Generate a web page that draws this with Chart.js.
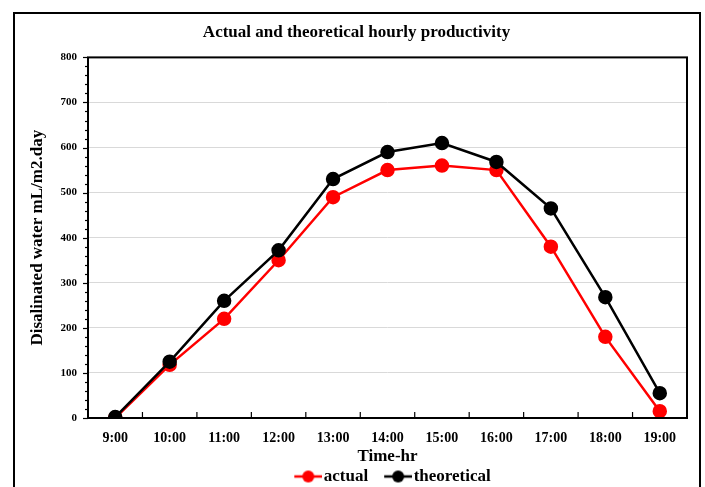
<!DOCTYPE html>
<html><head><meta charset="utf-8">
<script src="https://cdn.jsdelivr.net/npm/chart.js@4"></script>
<style>html,body{margin:0;padding:0;background:#fff;overflow:hidden;}</style>
</head><body>
<canvas id="c" width="705" height="487" style="width:705px;height:487px;display:block"></canvas>
<script>
const categories = ['9:00','10:00','11:00','12:00','13:00','14:00','15:00','16:00','17:00','18:00','19:00'];
const actual = [0,118,220,350,490,550,560,550,380,180,15];
const theoretical = [2,125,260,372,530,590,610,568,465,268,55];
const yMin = 0, yMax = 800, yStep = 100, yMinorStep = 20;

const FONT = '"Liberation Serif", "Times New Roman", serif';

// legend marker: transparent left part, then line with dot (28px wide)
function legendIcon(color){
  const c = document.createElement('canvas');
  c.width = 45; c.height = 14;
  const x = c.getContext('2d');
  x.strokeStyle = color; x.lineWidth = 2.5;
  x.beginPath(); x.moveTo(17,7); x.lineTo(45,7); x.stroke();
  x.fillStyle = color; x.beginPath(); x.arc(31,7,6,0,Math.PI*2); x.fill();
  return c;
}

const decor = {
  id:'decor',
  afterLayout(chart){
    if (chart.titleBlock) { chart.titleBlock.left += 12; }
  },
  beforeDraw(chart){
    const ctx = chart.ctx;
    ctx.save();
    ctx.fillStyle = '#fff';
    ctx.fillRect(0,0,chart.width,chart.height);
    ctx.strokeStyle = '#000'; ctx.lineWidth = 2;
    ctx.beginPath();
    ctx.moveTo(14, chart.height+5); ctx.lineTo(14, 13); ctx.lineTo(700, 13); ctx.lineTo(700, chart.height+5);
    ctx.stroke();
    ctx.restore();
  },
  afterDraw(chart){
    const ctx = chart.ctx, a = chart.chartArea;
    const y = chart.scales.y, x = chart.scales.x;
    ctx.save();
    ctx.strokeStyle = '#000';
    ctx.lineWidth = 1.2;
    for (let v = yMin; v <= yMax; v += yMinorStep){
      const py = Math.round(y.getPixelForValue(v)) + 0.5;
      const len = (v % yStep === 0) ? 5 : 3;
      ctx.beginPath(); ctx.moveTo(a.left - len, py); ctx.lineTo(a.left, py); ctx.stroke();
    }
    for (let i = 1; i < categories.length; i++){
      const px = (x.getPixelForValue(i-1) + x.getPixelForValue(i)) / 2;
      ctx.beginPath(); ctx.moveTo(px, a.bottom); ctx.lineTo(px, a.bottom - 6); ctx.stroke();
    }
    ctx.lineWidth = 2;
    ctx.strokeRect(a.left, a.top, a.right - a.left, a.bottom - a.top);
    ctx.restore();
  }
};

new Chart(document.getElementById('c'), {
  type:'line',
  data:{
    labels: categories,
    datasets:[
      {label:'actual', data: actual, borderColor:'#ff0000', backgroundColor:'#ff0000', borderWidth:2.5, pointRadius:6, pointHoverRadius:6, pointStyle:'circle', pointBackgroundColor:'#ff0000', pointBorderColor:'#ff0000', tension:0, order:2},
      {label:'theoretical', data: theoretical, borderColor:'#000000', backgroundColor:'#000000', borderWidth:2.5, pointRadius:6, pointHoverRadius:6, pointStyle:'circle', pointBackgroundColor:'#000000', pointBorderColor:'#000000', tension:0, order:1}
    ]
  },
  options:{
    responsive:false, animation:false, devicePixelRatio:1,
    layout:{padding:{left:14, right:18, top:0, bottom:-8}},
    plugins:{
      title:{display:true, text:'Actual and theoretical hourly productivity', color:'#000', font:{family:FONT, size:17, weight:'bold'}, padding:{top:22, bottom:15}},
      legend:{display:true, position:'bottom', fullSize:false,
        labels:{color:'#000', font:{family:FONT, size:17, weight:'bold'}, usePointStyle:true, pointStyleWidth:31, padding:6,
          generateLabels(chart){
            return chart.data.datasets.map((d,i)=>({text:d.label, fillStyle:d.borderColor, strokeStyle:d.borderColor, lineWidth:0, pointStyle:legendIcon(d.borderColor), datasetIndex:i, fontColor:'#000'}));
          }
        }
      },
      tooltip:{enabled:false}
    },
    scales:{
      x:{
        type:'category', offset:true,
        afterFit(s){ s.height = 44; },
        grid:{display:false, drawTicks:false},
        border:{display:false},
        ticks:{color:'#000', font:{family:FONT, size:14, weight:'bold'}, padding:12, maxRotation:0, autoSkip:false},
        title:{display:true, text:'Time-hr', color:'#000', font:{family:FONT, size:17, weight:'bold'}, padding:{top:0, bottom:-5}}
      },
      y:{
        min:yMin, max:yMax,
        afterFit(s){ s.width = 74; },
        grid:{color:'#d9d9d9', lineWidth:1, drawTicks:false},
        border:{display:false},
        ticks:{stepSize:yStep, color:'#000', font:{family:FONT, size:11, weight:'bold'}, padding:11},
        title:{display:true, text:'Disalinated water mL/m2.day', color:'#000', font:{family:FONT, size:17, weight:'bold'}, padding:{top:13,bottom:0}}
      }
    }
  },
  plugins:[decor]
});
</script>
</body></html>
